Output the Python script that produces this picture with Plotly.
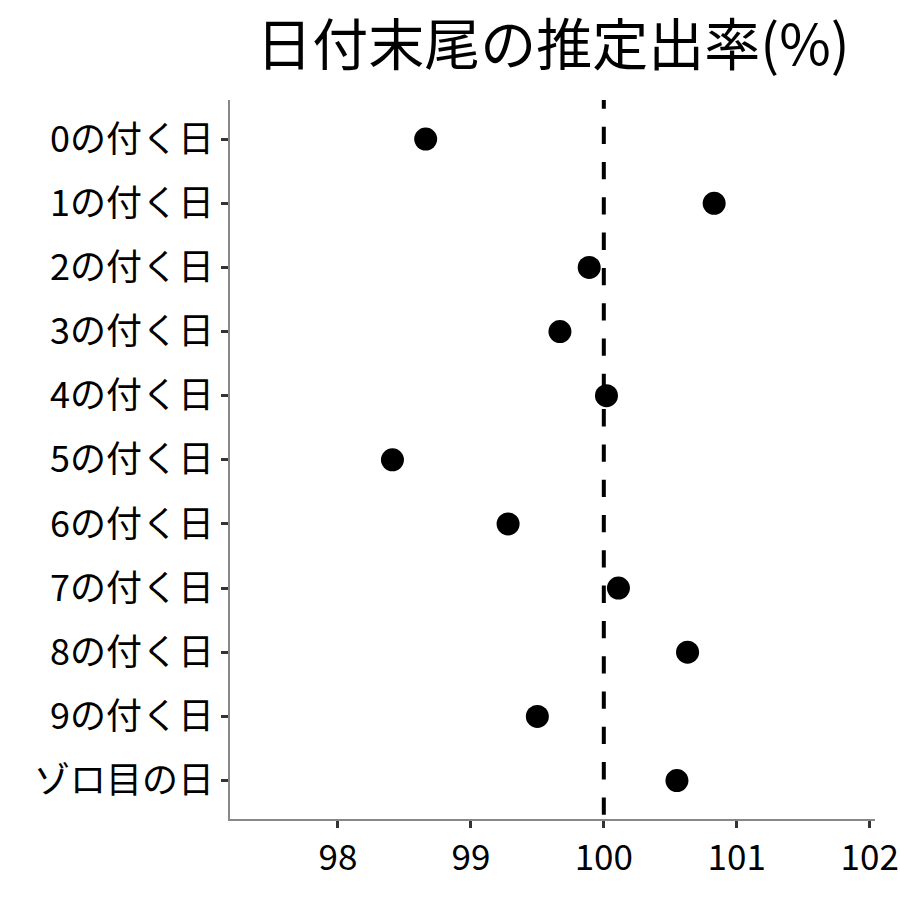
import plotly.graph_objects as go

categories = ["0の付く日", "1の付く日", "2の付く日", "3の付く日", "4の付く日",
              "5の付く日", "6の付く日", "7の付く日", "8の付く日", "9の付く日", "ゾロ目の日"]
rates = [98.66, 100.83, 99.89, 99.67, 100.02, 98.41, 99.28, 100.11, 100.63, 99.50, 100.55]
x_ticks = [98, 99, 100, 101, 102]
reference_value = 100

FONT = "Noto Sans CJK JP"

# dash pattern for the reference line (drawn bottom -> top)
dash_pattern = "0px,4.3px," + ",".join(["17.3px,18px"] * 22)

fig = go.Figure()
fig.add_trace(go.Scatter(
    x=rates, y=categories, mode="markers",
    marker=dict(size=23, color="black"),
    showlegend=False, hoverinfo="x+y",
))
fig.add_shape(type="line", xref="x", yref="paper",
              x0=reference_value, x1=reference_value, y0=0, y1=1,
              line=dict(color="black", width=4, dash=dash_pattern))

fig.update_layout(
    width=900, height=900,
    margin=dict(l=230, r=25, t=100, b=81, autoexpand=False),
    paper_bgcolor="white", plot_bgcolor="white",
    font=dict(family=FONT, color="black", size=35),
    title=dict(text="日付末尾の推定出率(%)", x=0.6144, xanchor="center",
               y=0.95, yanchor="middle",
               font=dict(family=FONT, size=56, color="black")),
    xaxis=dict(range=[97.188, 102.04], tickvals=x_ticks,
               ticktext=[str(v) for v in x_ticks], automargin=False,
               showgrid=False, zeroline=False,
               showline=True, linecolor="#888888", linewidth=1.5,
               ticks="outside", ticklen=7, tickwidth=3, tickcolor="#333333",
               tickfont=dict(family=FONT, size=35, color="black")),
    yaxis=dict(categoryorder="array", categoryarray=categories,
               range=[10.6, -0.61], autorange=False, automargin=False,
               showgrid=False, zeroline=False,
               showline=True, linecolor="#888888", linewidth=1.5,
               ticks="outside", ticklen=7, tickwidth=3, tickcolor="#333333",
               tickfont=dict(family=FONT, size=36, color="black")),
)

fig.write_html(
    "out.html",
    config={"responsive": False, "displayModeBar": False},
    post_script="document.documentElement.style.overflow='hidden';"
                "document.body.style.margin='0';document.body.style.overflow='hidden';",
)
